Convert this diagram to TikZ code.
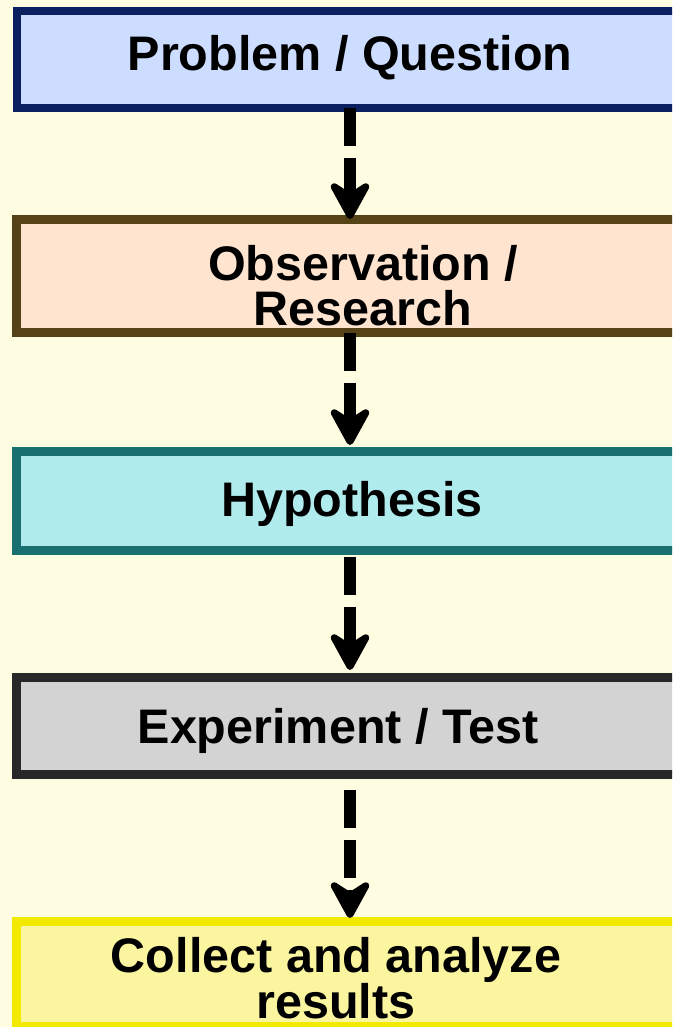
\documentclass[tikz,border=0pt]{standalone}
\usepackage{fontspec}
\setmainfont{Liberation Sans}
\usetikzlibrary{arrows.meta}

\definecolor{paper}{RGB}{255,253,225}
\definecolor{navyline}{RGB}{10,32,96}
\definecolor{skyfill}{RGB}{204,221,255}
\definecolor{brownline}{RGB}{85,66,22}
\definecolor{peachfill}{RGB}{255,228,208}
\definecolor{tealline}{RGB}{26,112,112}
\definecolor{aquafill}{RGB}{176,236,238}
\definecolor{darkline}{RGB}{40,40,40}
\definecolor{greyfill}{RGB}{211,211,211}
\definecolor{yellowline}{RGB}{242,234,0}
\definecolor{lemonfill}{RGB}{251,245,160}

\begin{document}
\begin{tikzpicture}[x=1pt, y=-1pt,
  stage/.style={rectangle, line width=9pt, minimum width=667pt, inner sep=0pt},
  caption/.style={font=\bfseries\fontsize{48.5}{45}\selectfont, inner sep=0pt, align=center},
  flow/.style={line width=12pt, dash pattern=on 38pt off 12pt,
    -{Stealth[length=46pt, width=50pt, inset=16pt, round, line width=7pt]}}]

  % page and background
  \useasboundingbox (0,0) rectangle (672,1027);
  \clip (0,0) rectangle (672,1027);
  \fill[paper] (0,0) rectangle (672,1027);

  % stage boxes
  \node[stage, line width=8pt, minimum height=97pt, draw=navyline, fill=skyfill] (question) at (350,59.5) {};
  \node[stage, minimum height=113pt, draw=brownline, fill=peachfill] (research) at (350,276) {};
  \node[stage, minimum height=99pt, draw=tealline, fill=aquafill] (hypothesis) at (350,501) {};
  \node[stage, minimum height=97pt, draw=darkline, fill=greyfill] (experiment) at (350,726) {};
  \node[stage, minimum height=105pt, draw=yellowline, fill=lemonfill] (results) at (350,974) {};

  % stage labels
  \node[caption, anchor=base] (questiontext) at (350,71) {Problem / Question};
  \node[caption, anchor=south] (researchtext) at (363,326) {Observation /\\Research};
  \node[caption, anchor=base] (hypothesistext) at (352,516) {Hypothesis};
  \node[caption, anchor=base] (experimenttext) at (338,743) {Experiment / Test};
  \node[caption, anchor=south] (resultstext) at (336,1019) {Collect and analyze\\results};

  % dashed arrows between stages
  \draw[flow, shorten <=-4pt, shorten >=-4pt] (question.south) -- (research.north);
  \draw[flow, shorten <=-4pt, shorten >=2pt] (research.south) -- (hypothesis.north);
  \draw[flow, shorten <=2pt, shorten >=3pt] (hypothesis.south) -- (experiment.north);
  \draw[flow, shorten <=11pt, shorten >=-1pt] (experiment.south) -- (results.north);
\end{tikzpicture}
\end{document}
